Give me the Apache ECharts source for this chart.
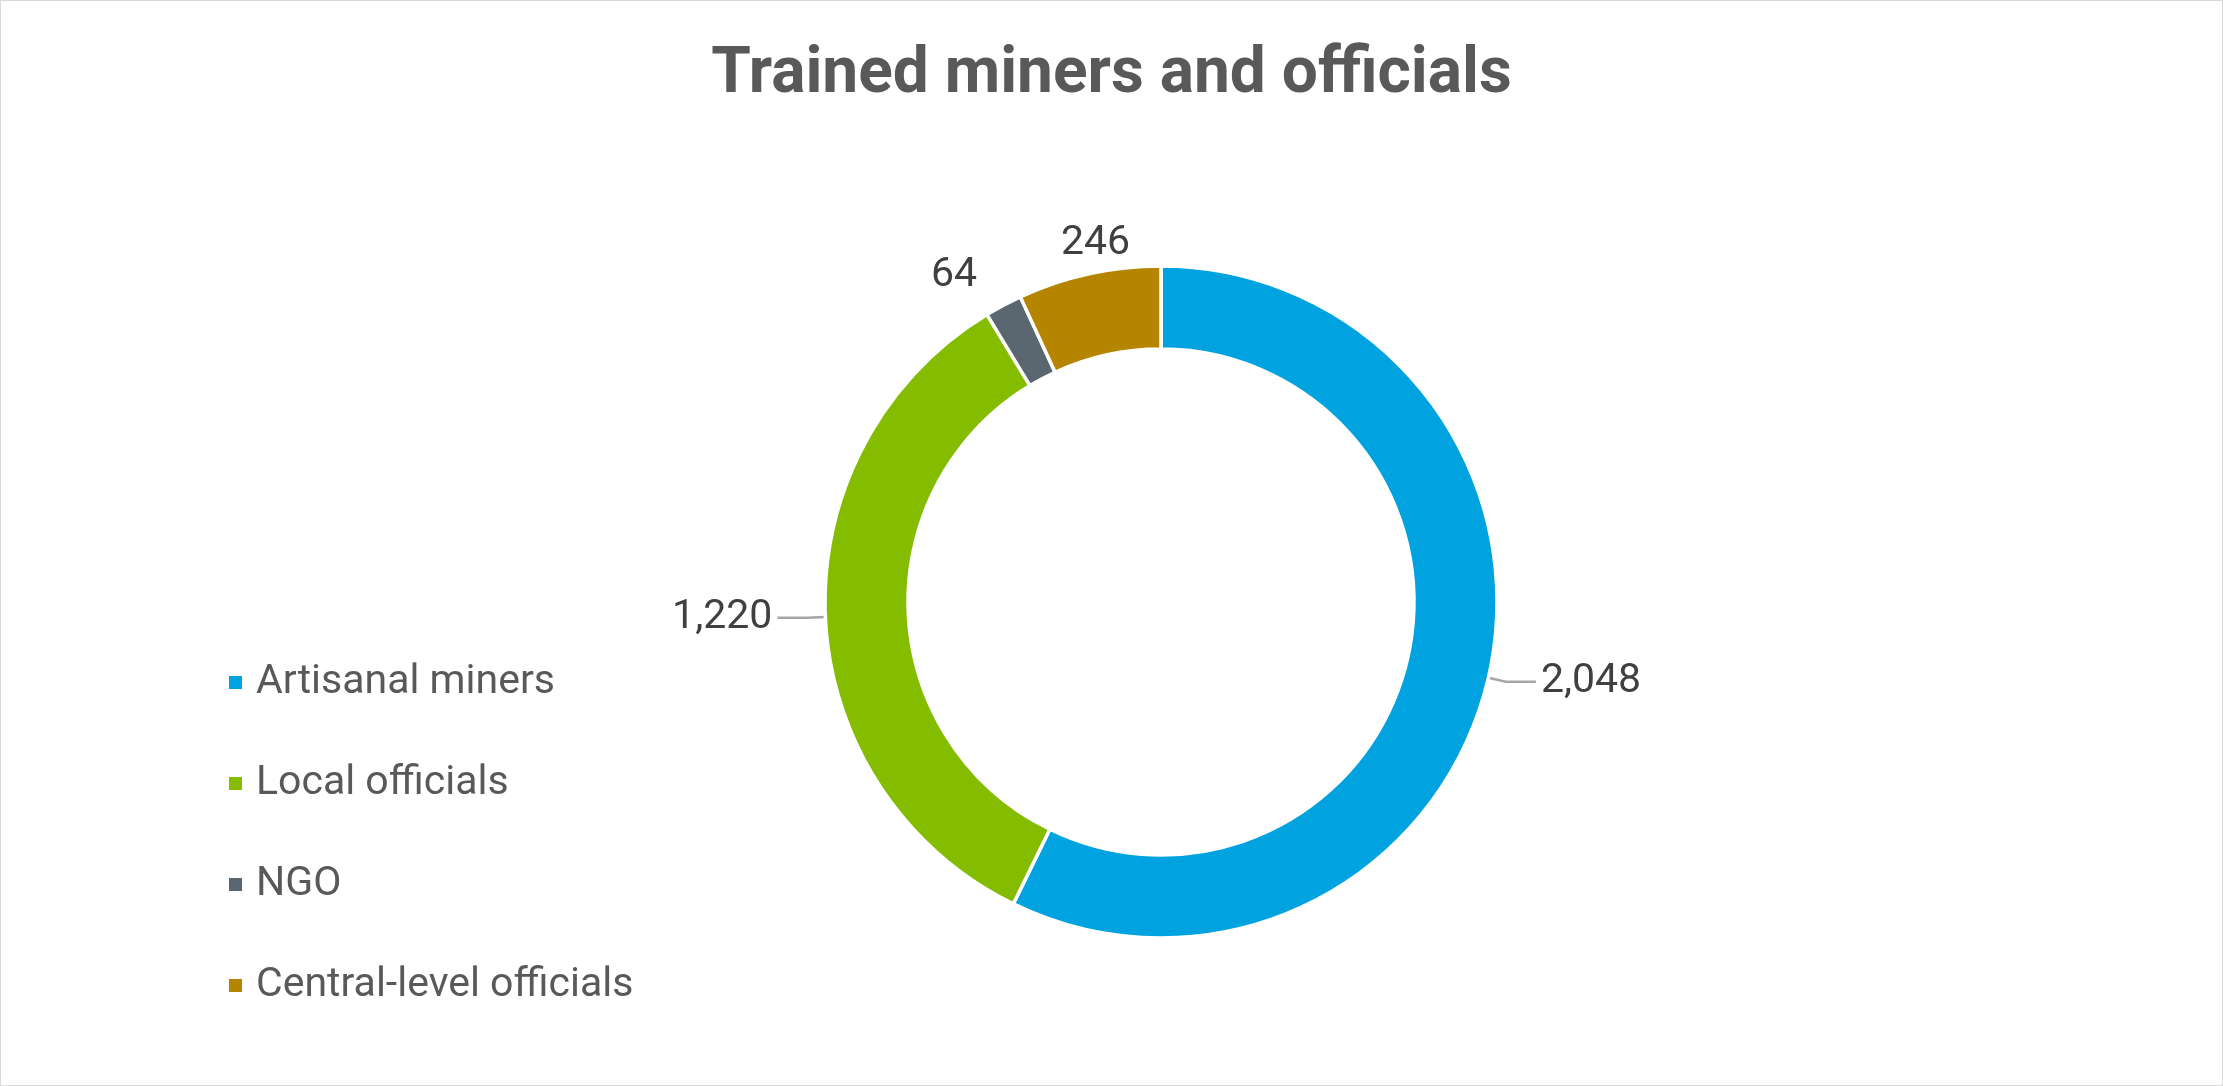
<!DOCTYPE html>
<html>
<head>
<meta charset="utf-8">
<script src="https://cdn.jsdelivr.net/npm/echarts@6/dist/echarts.min.js"></script>
<style>
  html, body { margin: 0; padding: 0; background: #fff; }
  #chart { width: 2221px; height: 1084px; border: 1px solid #d9d9d9; }
</style>
</head>
<body>
<div id="chart"></div>
<script>
// values
const categories = ['Artisanal miners', 'Local officials', 'NGO', 'Central-level officials'];
const trained = [2048, 1220, 64, 246];
const colors = ['#00A3E0', '#84BD00', '#5B6770', '#B58500'];

const data = categories.map((name, i) => ({
    name: name,
    value: trained[i],
    labelLine: { show: trained[i] > 500 }
}));

// small nudges so the short labels sit where Excel put them
const labelShift = [
    { dx: 0, dy: 0 },
    { dx: 0, dy: 0 },
    { dx: 17, dy: -14 },
    { dx: 80, dy: -12 }
];

const chart = echarts.init(document.getElementById('chart'));
chart.setOption({
    color: colors,
    title: {
        text: 'Trained miners and officials',
        left: 'center',
        top: 38,
        textStyle: {
            fontFamily: 'Roboto',
            fontWeight: 'bold',
            fontSize: 64,
            color: '#595959'
        }
    },
    legend: {
        orient: 'vertical',
        left: 221,
        top: 656,
        icon: 'rect',
        itemWidth: 15,
        itemHeight: 15,
        itemGap: 60,
        textStyle: {
            fontFamily: 'Roboto',
            fontSize: 41,
            color: '#595959',
            padding: [0, 0, 0, 8]
        },
        data: categories
    },
    series: [{
        type: 'pie',
        center: [1160, 601],
        radius: [253, 336],
        startAngle: 90,
        clockwise: true,
        avoidLabelOverlap: false,
        itemStyle: { borderColor: '#fff', borderWidth: 3.5 },
        label: {
            position: 'outside',
            fontFamily: 'Roboto',
            fontSize: 41,
            color: '#404040',
            formatter: p => p.value.toLocaleString('en-US')
        },
        labelLine: {
            length: 18,
            length2: 30,
            lineStyle: { color: '#a6a6a6', width: 2.5 }
        },
        labelLayout: p => labelShift[p.dataIndex],
        emphasis: { disabled: true },
        data: data
    }]
});
</script>
</body>
</html>
